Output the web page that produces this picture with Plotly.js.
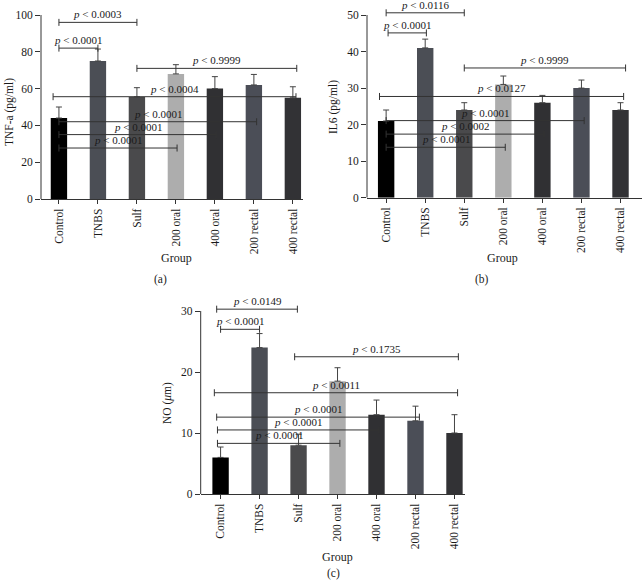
<!DOCTYPE html>
<html><head><meta charset="utf-8">
<script src="https://cdn.plot.ly/plotly-3.0.1.min.js"></script>
<style>body{margin:0;background:#fff}#chart{width:642px;height:583px}</style>
</head><body><div id="chart"></div>
<script>
// ---------- data ----------
const groups = ["Control","TNBS","Sulf","200 oral","400 oral","200 rectal","400 rectal"];
const barColors = ["#000000","#4b4e55","#4a4a4c","#adadad","#303033","#4b4e57","#323235"];

const tnfMean = [44, 75, 55.5, 68, 60, 62, 55];
const tnfErr  = [6, 6.5, 5, 5, 6.5, 5.7, 6];
const il6Mean = [21, 41, 24, 31, 26, 30, 24];
const il6Err  = [3, 2.4, 2, 2.3, 2, 2.2, 2];
const noMean  = [6, 24, 8, 18.5, 13, 12, 10];
const noErr   = [1.7, 2.3, 1.8, 2.2, 2.4, 2.4, 3];

// comparisons: from group index, to group index, bracket level, p text
const tnfCmpFrom = [0, 0, 2, -0.15, 0, 0, 0];
const tnfCmpTo   = [2, 1, 6.1, 6.08, 5.07, 4.03, 3.03];
const tnfCmpY    = [96, 82, 71, 55.6, 42, 35, 27.7];
const tnfCmpP    = ["0.0003","0.0001","0.9999","0.0004","0.0001","0.0001","0.0001"];

const il6CmpFrom = [0, 0.05, 2, -0.17, 0, 0, 0];
const il6CmpTo   = [2, 1.03, 6.13, 6.08, 5.07, 4.04, 3.05];
const il6CmpY    = [50.6, 45.1, 35.5, 27.7, 21.1, 17.4, 13.8];
const il6CmpP    = ["0.0116","0.0001","0.9999","0.0127","0.0001","0.0002","0.0001"];

const noCmpFrom = [-0.1, 0, 1.9, -0.16, -0.1, -0.08, -0.08];
const noCmpTo   = [1.97, 1, 6.1, 6.08, 5.1, 4.06, 3.06];
const noCmpY    = [30.3, 27, 22.5, 16.6, 12.6, 10.5, 8.3];
const noCmpP    = ["0.0149","0.0001","0.1735","0.0011","0.0001","0.0001","0.0001"];

// ---------- layout helpers ----------
const W = 642, H = 583;
const px = x => x / W;
const py = y => 1 - y / H;
const FONT = "Liberation Serif, Times New Roman, serif";
const TXT = "#1a1a1a";

const panels = [
  {mean: tnfMean, err: tnfErr, from: tnfCmpFrom, to: tnfCmpTo, cy: tnfCmpY, p: tnfCmpP,
   xl: 41, xr: 303, xrange: [-0.46, 6.26], yb: 199, yt: 15, ymax: 100, ytop: 100, dtick: 20,
   ytitle: "TNF-a (pg/ml)", ytx: 9, yty: 112, gx: 177, gy: 258, lab: "(a)", lx: 160, ly: 280},
  {mean: il6Mean, err: il6Err, from: il6CmpFrom, to: il6CmpTo, cy: il6CmpY, p: il6CmpP,
   xl: 367, xr: 642, xrange: [-0.49, 6.55], yb: 197.7, yt: 15, ymax: 50, ytop: 52, dtick: 10,
   ytitle: "IL6 (pg/ml)", ytx: 334, yty: 107, gx: 502, gy: 258, lab: "(b)", lx: 482, ly: 280},
  {mean: noMean, err: noErr, from: noCmpFrom, to: noCmpTo, cy: noCmpY, p: noCmpP,
   xl: 200.7, xr: 465, xrange: [-0.51, 6.27], yb: 494, yt: 311, ymax: 30, ytop: 31.5, dtick: 10,
   ytitle: "NO (<i>μ</i>m)", ytx: 168, yty: 403, gx: 338, gy: 557, lab: "(c)", lx: 333, ly: 573}
];

const traces = [];
const layout = {
  width: W, height: H, margin: {l: 0, r: 0, t: 0, b: 0},
  paper_bgcolor: "#fff", plot_bgcolor: "#fff", showlegend: false,
  font: {family: FONT, size: 11, color: TXT},
  annotations: [], shapes: []
};

panels.forEach((P, k) => {
  const n = k === 0 ? "" : String(k + 1);
  const xa = "x" + n, ya = "y" + n;
  const idx = groups.map((g, i) => i);
  const pxPerUnit = (P.yb - P.yt) / P.ymax;
  const yTopPx = P.yb - pxPerUnit * P.ytop;

  layout["xaxis" + n] = {
    domain: [px(P.xl), px(P.xr)], range: P.xrange, anchor: ya,
    tickvals: idx, ticktext: groups, tickangle: -90,
    showline: true, linecolor: "#333", linewidth: 1,
    ticks: "outside", ticklen: 4, tickcolor: "#333",
    showgrid: false, zeroline: false, fixedrange: true,
    tickfont: {family: FONT, size: 11.5, color: TXT}
  };
  const tv = [];
  for (let v = 0; v <= P.ymax; v += P.dtick) tv.push(v);
  layout["yaxis" + n] = {
    domain: [py(P.yb), py(yTopPx)], range: [0, P.ytop], anchor: xa,
    tickvals: tv, showline: false, ticks: "outside", ticklen: 5, tickcolor: "#333",
    showgrid: false, zeroline: false, fixedrange: true,
    tickfont: {family: FONT, size: 11.5, color: TXT}
  };
  layout.shapes.push({type: "line", xref: xa + " domain", yref: ya,
    x0: 0, x1: 0, y0: 0, y1: P.ymax, line: {color: "#333", width: 1}});

  traces.push({
    type: "bar", x: idx, y: P.mean, xaxis: xa, yaxis: ya, width: 0.42,
    marker: {color: barColors, line: {width: 0}},
    error_y: {type: "data", array: P.err, arrayminus: P.err.map(() => 0), symmetric: false,
      color: "#444", thickness: 1, width: 3},
    hoverinfo: "skip"
  });

  P.from.forEach((f, j) => {
    traces.push({
      type: "scatter", mode: "lines+markers", xaxis: xa, yaxis: ya,
      x: [f, P.to[j]], y: [P.cy[j], P.cy[j]],
      line: {color: "#333", width: 1},
      marker: {symbol: "line-ns-open", size: 5, color: "#333", line: {color: "#333", width: 1}},
      cliponaxis: false, hoverinfo: "skip"
    });
    layout.annotations.push({
      xref: xa, yref: ya, x: (f + P.to[j]) / 2, y: P.cy[j],
      text: "<i>p</i> < " + P.p[j], showarrow: false, xanchor: "center", yanchor: "bottom", yshift: 0,
      font: {family: FONT, size: 11, color: TXT}
    });
  });

  const centered = {showarrow: false, xanchor: "center", yanchor: "middle", xref: "paper", yref: "paper"};
  layout.annotations.push(Object.assign({}, centered, {x: px(P.ytx), y: py(P.yty),
    text: P.ytitle, textangle: -90, font: {family: FONT, size: 11.5, color: TXT}}));
  layout.annotations.push(Object.assign({}, centered, {x: px(P.gx), y: py(P.gy),
    text: "Group", font: {family: FONT, size: 12, color: TXT}}));
  layout.annotations.push(Object.assign({}, centered, {x: px(P.lx), y: py(P.ly),
    text: P.lab, font: {family: FONT, size: 11.5, color: TXT}}));
});

Plotly.newPlot("chart", traces, layout, {displayModeBar: false, staticPlot: true});
</script></body></html>
